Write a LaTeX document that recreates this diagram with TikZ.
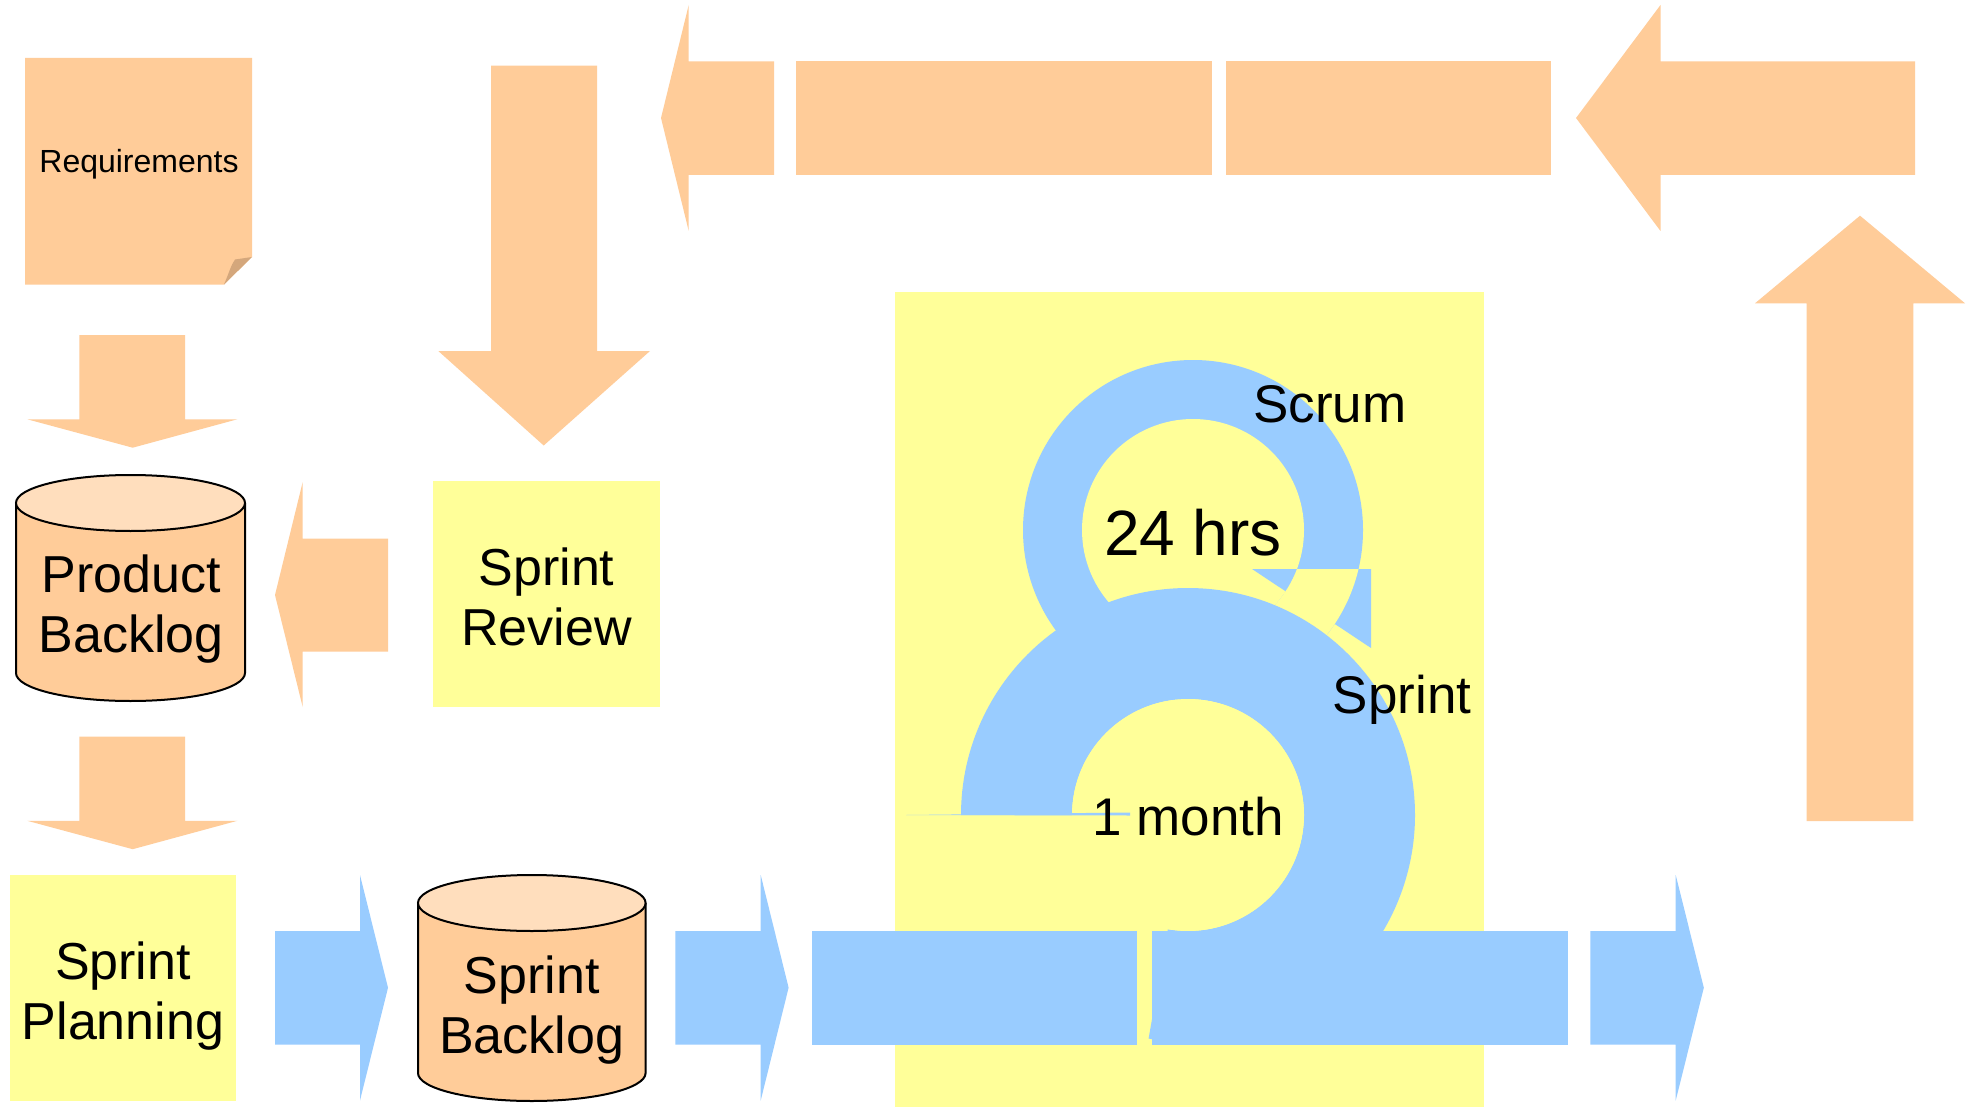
\documentclass[tikz,border=0pt]{standalone}
\usepackage{fontspec}
\setmainfont{Liberation Sans}
\definecolor{peach}{HTML}{FFCC99}
\definecolor{peachtop}{HTML}{FFDEBD}
\definecolor{paper}{HTML}{FFFF99}
\definecolor{sky}{HTML}{99CCFF}
\definecolor{foldtan}{HTML}{D4A77C}

\begin{document}
\begin{tikzpicture}[x=1pt,y=-1pt,
  peachfill/.style={fill=peach},
  skyfill/.style={fill=sky},
  paperbox/.style={fill=paper, draw=none, rectangle, inner sep=0pt},
  cyl/.style={fill=peach, draw=black, line width=2pt},
  cyltop/.style={fill=peachtop, draw=black, line width=2pt},
  labeltext/.style={font=\fontsize{52}{60}\selectfont, align=center, inner sep=0pt},
  looptext/.style={font=\fontsize{53}{60}\selectfont, inner sep=0pt, anchor=base},
]
\useasboundingbox (0,0) rectangle (1980,1107);
\fill[white] (0,0) rectangle (1980,1107);

% ---------- Requirements note with folded corner ----------
\fill[peachfill] (25,58) -- (252,58) -- (252,257) -- (224,284.5) -- (25,284.5) -- cycle;
\fill[foldtan] (224,284.5) .. controls (229,273) and (231,265) .. (235,259.5) -- (252,257) -- cycle;
\node[font=\fontsize{32}{38}\selectfont, inner sep=0pt] (req) at (139,164) {Requirements};

% ---------- down arrows on the left ----------
\fill[peachfill] (79.3,335) -- (185,335) -- (185,419.3) -- (237.3,419.3) -- (132.7,447.7)
  -- (27.3,419.3) -- (79.3,419.3) -- cycle;
\fill[peachfill] (79.3,736.5) -- (185,736.5) -- (185,820.8) -- (237.3,820.8) -- (132.7,849.2)
  -- (27.3,820.8) -- (79.3,820.8) -- cycle;

% ---------- Product Backlog cylinder ----------
\draw[cyl] (16,503) -- (16,673) arc[start angle=180,end angle=0,x radius=114.5,y radius=28]
  -- (245,503);
\draw[cyltop] (130.5,503) ellipse[x radius=114.5,y radius=28];
\node[labeltext] (pbl) at (131,609.5) {Product\\Backlog};

% ---------- Sprint Planning ----------
\node[paperbox, minimum width=226pt, minimum height=226pt] (planning) at (123,988) {};
\node[labeltext] (planning-label) at (123,996.5) {Sprint\\Planning};

% ---------- Sprint Review and its arrows ----------
\node[paperbox, minimum width=226.7pt, minimum height=226pt] (review) at (546.7,594) {};
\node[labeltext] (review-label) at (546.5,597) {Sprint\\Review};
\fill[peachfill] (491,65.7) -- (597,65.7) -- (597,351) -- (650,351) -- (543.7,445.5)
  -- (438.3,351) -- (491,351) -- cycle;
\fill[peachfill] (388,538.5) -- (302.7,538.5) -- (302.7,482) -- (275,595) -- (302.7,707)
  -- (302.7,651.5) -- (388,651.5) -- cycle;

% ---------- return path along the top and right ----------
\fill[peachfill] (774,61.5) -- (688.7,61.5) -- (688.7,5) -- (661,118) -- (688.7,231)
  -- (688.7,174.8) -- (774,174.8) -- cycle;
\fill[peachfill] (796.4,61.5) rectangle (1211.8,174.8);
\fill[peachfill] (1226.3,61.5) rectangle (1551,174.8);
\fill[peachfill] (1915.2,61.5) -- (1660.5,61.5) -- (1660.5,5) -- (1576,118) -- (1660.5,231)
  -- (1660.5,174.8) -- (1915.2,174.8) -- cycle;
\fill[peachfill] (1806.7,821) -- (1806.7,303.3) -- (1755,303.3) -- (1860,215.7) -- (1965,303.3)
  -- (1913.3,303.3) -- (1913.3,821) -- cycle;

% ---------- Scrum cycle panel ----------
\fill[paper] (895,292) rectangle (1484,1107);

% daily loop (24 hrs)
\fill[skyfill] (1193,530) circle[radius=170];
\fill[paper] (1193,530) circle[radius=111];
\fill[skyfill] (1252,569) -- (1371,569) -- (1371,648) -- cycle;
\begin{scope}
  \clip (1193,569) rectangle (1420,760);
  \fill[paper, even odd rule] (1193,530) circle[radius=170] (1193,530) circle[radius=111];
\end{scope}

% sprint loop (1 month)
\fill[skyfill] (1188,815) ++(180:227) arc[start angle=180,end angle=460,radius=227]
  -- ++(100:-111) arc[start angle=100,end angle=-180,radius=116] -- cycle;
\fill[paper] (1188,815) circle[radius=116];
\fill[skyfill] (906,815) -- (1130,812.5) -- (1130,815.5) -- cycle;

% ---------- flow along the bottom ----------
\fill[skyfill] (275,931) -- (360,931) -- (360,875) -- (388,987.7) -- (360,1100.5)
  -- (360,1044.5) -- (275,1044.5) -- cycle;
\draw[cyl] (418,903) -- (418,1073) arc[start angle=180,end angle=0,x radius=113.8,y radius=28]
  -- (645.6,903);
\draw[cyltop] (531.8,903) ellipse[x radius=113.8,y radius=28];
\node[labeltext] (sbl) at (531.6,1010.5) {Sprint\\Backlog};
\fill[skyfill] (675.4,931) -- (760.7,931) -- (760.7,875) -- (788.6,987.7) -- (760.7,1100.5)
  -- (760.7,1044.5) -- (675.4,1044.5) -- cycle;
\fill[skyfill] (811.8,931) rectangle (1136.8,1044.5);
\fill[skyfill] (1151.8,931) rectangle (1567.8,1044.5);
\fill[skyfill] (1590.3,931) -- (1675.7,931) -- (1675.7,875) -- (1703.8,987.7) -- (1675.7,1100.5)
  -- (1675.7,1044.5) -- (1590.3,1044.5) -- cycle;

% ---------- cycle labels ----------
\node[looptext] (scrum) at (1330,422) {Scrum};
\node[looptext, font=\fontsize{64}{70}\selectfont] (day) at (1193,555) {24 hrs};
\node[looptext] (sprint) at (1402,713) {Sprint};
\node[looptext] (month) at (1188,835) {1 month};
\end{tikzpicture}
\end{document}
